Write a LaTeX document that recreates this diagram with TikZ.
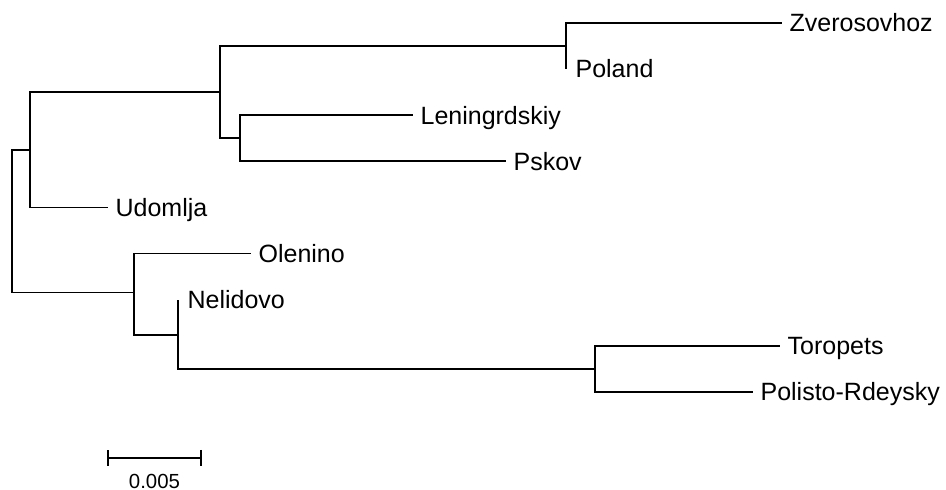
\documentclass[tikz,border=0pt]{standalone}
\usepackage{fontspec}
\setmainfont{Liberation Sans}
\usetikzlibrary{positioning, arrows.meta}
\tikzset{
  branch/.style={line width=0.9pt, line join=miter},
  taxon/.style={anchor=base west, inner sep=0pt, xshift=3.6pt, yshift=-4.5pt,
                font=\fontsize{12.5}{15}\selectfont},
  scalebar/.style={line width=0.9pt, {Bar[width=8pt]}-{Bar[width=8pt]}},
  scalelabel/.style={inner sep=0pt, font=\fontsize{10.2}{12}\selectfont},
}

\begin{document}
\begin{tikzpicture}[x=0.5pt, y=-0.5pt]
  \useasboundingbox (0,0) rectangle (946,490);

  % ── Internal nodes ───────────────────────────────────────────────────
  \coordinate (root) at (12,221);
  \coordinate (nA)   at (30,150);
  \coordinate (nB)   at (220,92);
  \coordinate (nC)   at (566,46);
  \coordinate (nD)   at (240,138.3);
  \coordinate (nE)   at (134,292.5);
  \coordinate (nF)   at (178,335);
  \coordinate (nG)   at (595,369);

  % ── Tips ─────────────────────────────────────────────────────────────
  \coordinate (tZv)  at (782,23);
  \coordinate (tPo)  at (566,69);
  \coordinate (tLe)  at (413,115.2);
  \coordinate (tPs)  at (506,161.4);
  \coordinate (tUd)  at (108,207.5);
  \coordinate (tOl)  at (251,253.6);
  \coordinate (tNe)  at (178,300);
  \coordinate (tTo)  at (780,346);
  \coordinate (tPr)  at (753,392);

  % ── Branches ─────────────────────────────────────────────────────────
  \draw[branch] (root) |- (nA);
  \draw[branch] (root) |- (nE);
  \draw[branch] (nA) |- (nB);
  \draw[branch] (nA) |- (tUd);
  \draw[branch] (nB) |- (nC);
  \draw[branch] (nB) |- (nD);
  \draw[branch] (nC) |- (tZv);
  \draw[branch] (nC) |- (tPo);
  \draw[branch] (nD) |- (tLe);
  \draw[branch] (nD) |- (tPs);
  \draw[branch] (nE) |- (tOl);
  \draw[branch] (nE) |- (nF);
  \draw[branch] (nF) |- (tNe);
  \draw[branch] (nF) |- (nG);
  \draw[branch] (nG) |- (tTo);
  \draw[branch] (nG) |- (tPr);

  % ── Taxon labels ─────────────────────────────────────────────────────
  \node[taxon] (lZv) at (tZv) {Zverosovhoz};
  \node[taxon, xshift=1pt] (lPo) at (tPo) {Poland};
  \node[taxon] (lLe) at (tLe) {Leningrdskiy};
  \node[taxon] (lPs) at (tPs) {Pskov};
  \node[taxon] (lUd) at (tUd) {Udomlja};
  \node[taxon] (lOl) at (tOl) {Olenino};
  \node[taxon, xshift=1pt] (lNe) at (tNe) {Nelidovo};
  \node[taxon] (lTo) at (tTo) {Toropets};
  \node[taxon] (lPr) at (tPr) {Polisto-Rdeysky};

  % ── Scale bar ────────────────────────────────────────────────────────
  \coordinate (sbL) at (107,458);
  \coordinate (sbR) at (202,458);
  \coordinate (sbM) at (154.5,458);
  \draw[scalebar] (sbL) -- (sbR);
  \node[scalelabel, below=8pt of sbM] (sbT) {0.005};

\end{tikzpicture}
\end{document}
